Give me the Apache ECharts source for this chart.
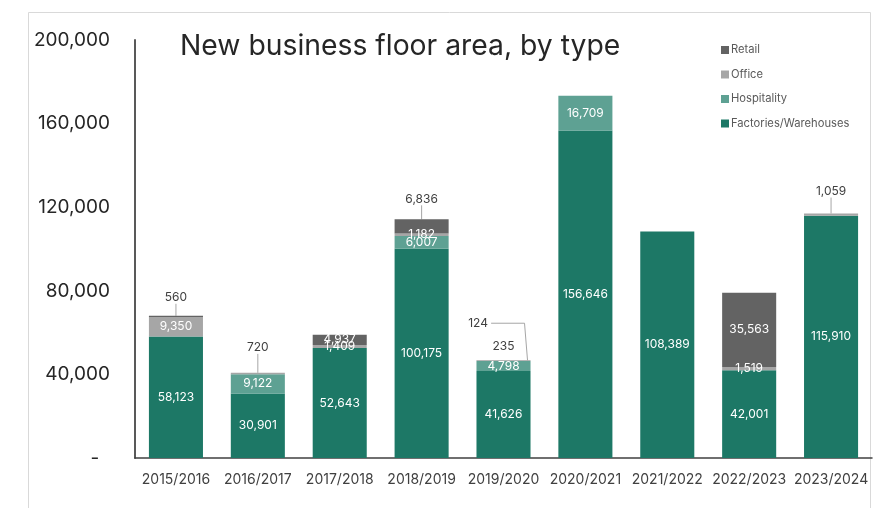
<!DOCTYPE html>
<html>
<head>
<meta charset="utf-8">
<script src="https://cdn.jsdelivr.net/npm/echarts@6/dist/echarts.min.js"></script>
<style>
  html, body { margin: 0; padding: 0; background: #fff; }
  #chart { width: 874px; height: 508px; }
</style>
</head>
<body>
<div id="chart"></div>
<script>
// Financial years on the category axis
const categories = ['2015/2016', '2016/2017', '2017/2018', '2018/2019', '2019/2020',
                    '2020/2021', '2021/2022', '2022/2023', '2023/2024'];

// New floor area (m²) per building type; null where none was recorded
const factories   = [58123, 30901, 52643, 100175, 41626, 156646, 108389, 42001, 115910];
const hospitality = [null, 9122, null, 6007, 4798, 16709, null, null, null];
const office      = [9350, 720, 1409, 1182, 235, null, null, 1519, 1059];
const retail      = [560, null, 4937, 6836, 124, null, null, 35563, null];

// Y-axis ticks
const yTicks = [0, 40000, 80000, 120000, 160000, 200000];

const FONT = 'Inter, "Noto Sans", sans-serif';
const fmt = v => Number(v).toLocaleString('en-US');

// Labels of thin segments sit above the bar, mostly with a leader line:
// key "seriesIndex:dataIndex" -> offset from the segment's top-left corner
const calloutLabels = {
  '3:0': { dx: 0.5, dy: -18, line: true },    // 560
  '2:1': { dx: 0.5, dy: -25, line: true },    // 720
  '3:3': { dx: 0.5, dy: -20, line: true },    // 6,836
  '2:4': { dx: 0.5, dy: -14, line: false },   // 235
  '3:4': { dx: 0.03, dy: -37, line: false, elbow: true },  // 124
  '2:8': { dx: 0.5, dy: -22, line: true }     // 1,059
};

function buildData(values, seriesIndex) {
  return values.map((v, i) => {
    const c = calloutLabels[seriesIndex + ':' + i];
    if (v == null || !c) return v;
    return {
      value: v,
      label: { color: '#404040' },
      labelLine: { show: c.line, lineStyle: { color: '#a6a6a6', width: 1 } }
    };
  });
}

const seriesDefs = [
  { name: 'Factories/Warehouses', values: factories,   color: '#1d7866' },
  { name: 'Hospitality',          values: hospitality, color: '#5ea193' },
  { name: 'Office',               values: office,      color: '#a6a6a6' },
  { name: 'Retail',               values: retail,      color: '#636363' }
];

const chart = echarts.init(document.getElementById('chart'), null, { renderer: 'canvas' });

chart.setOption({
  animation: false,
  backgroundColor: '#fff',
  textStyle: { fontFamily: FONT },
  title: {
    text: 'New business floor area, by type',
    left: 180,
    top: 32,
    padding: 0,
    textStyle: { fontFamily: FONT, fontSize: 28.3, fontWeight: 'normal', color: '#262626' }
  },
  legend: {
    orient: 'vertical',
    left: 716,
    top: 38,
    itemWidth: 8,
    itemHeight: 8,
    itemGap: 10.5,
    icon: 'rect',
    data: ['Retail', 'Office', 'Hospitality', 'Factories/Warehouses'],
    textStyle: { fontFamily: FONT, fontSize: 11.2, color: '#595959', lineHeight: 14, padding: [0, 0, 0, -3] }
  },
  grid: { left: 135, right: 2, top: 40, bottom: 50 },
  xAxis: {
    type: 'category',
    data: categories,
    axisTick: { show: false },
    axisLine: { lineStyle: { color: '#404040', width: 1.5 } },
    axisLabel: { interval: 0, fontFamily: FONT, fontSize: 14, color: '#404040', margin: 15 }
  },
  yAxis: {
    type: 'value',
    min: yTicks[0],
    max: yTicks[yTicks.length - 1],
    interval: yTicks[1] - yTicks[0],
    splitLine: { show: false },
    axisTick: { show: false },
    axisLine: { show: true, lineStyle: { color: '#595959', width: 2 } },
    axisLabel: {
      fontFamily: FONT, fontSize: 19, color: '#262626', margin: 25,
      formatter: v => (v === 0 ? '-  ' : fmt(v))
    }
  },
  series: seriesDefs.map((s, si) => ({
    name: s.name,
    type: 'bar',
    stack: 'area',
    barWidth: '66%',
    data: buildData(s.values, si),
    itemStyle: { color: s.color },
    label: {
      show: true,
      position: 'inside',
      fontFamily: FONT,
      fontSize: 12,
      color: '#ffffff',
      formatter: p => fmt(p.value)
    },
    labelLine: { show: false },
    labelLayout: p => {
      const c = calloutLabels[p.seriesIndex + ':' + p.dataIndex];
      if (!c) return {};
      return {
        x: p.rect.x + p.rect.width * c.dx,
        y: p.rect.y + c.dy,
        align: 'center',
        verticalAlign: 'middle'
      };
    }
  }))
});

// Chart frame plus elbow leader lines, placed from the bars' own layout
function drawDecorations() {
  const graphics = [{
    type: 'rect',
    shape: { x: 28.5, y: 12.5, width: 842, height: 520 },
    style: { fill: 'none', stroke: '#d9d9d9', lineWidth: 1 },
    silent: true
  }];
  Object.keys(calloutLabels).forEach(key => {
    const c = calloutLabels[key];
    if (!c.elbow) return;
    const [si, di] = key.split(':').map(Number);
    const layout = chart.getModel().getSeriesByIndex(si).getData().getItemLayout(di);
    const top = Math.min(layout.y, layout.y + layout.height);
    const labelX = layout.x + layout.width * c.dx;
    const labelY = top + c.dy;
    const right = layout.x + layout.width;
    graphics.push({
      type: 'polyline',
      silent: true,
      shape: { points: [[labelX + 13, labelY], [right - 6, labelY], [right - 3, top]] },
      style: { stroke: '#a6a6a6', lineWidth: 1, fill: 'none' }
    });
  });
  chart.setOption({ graphic: graphics });
}
drawDecorations();
</script>
</body>
</html>
